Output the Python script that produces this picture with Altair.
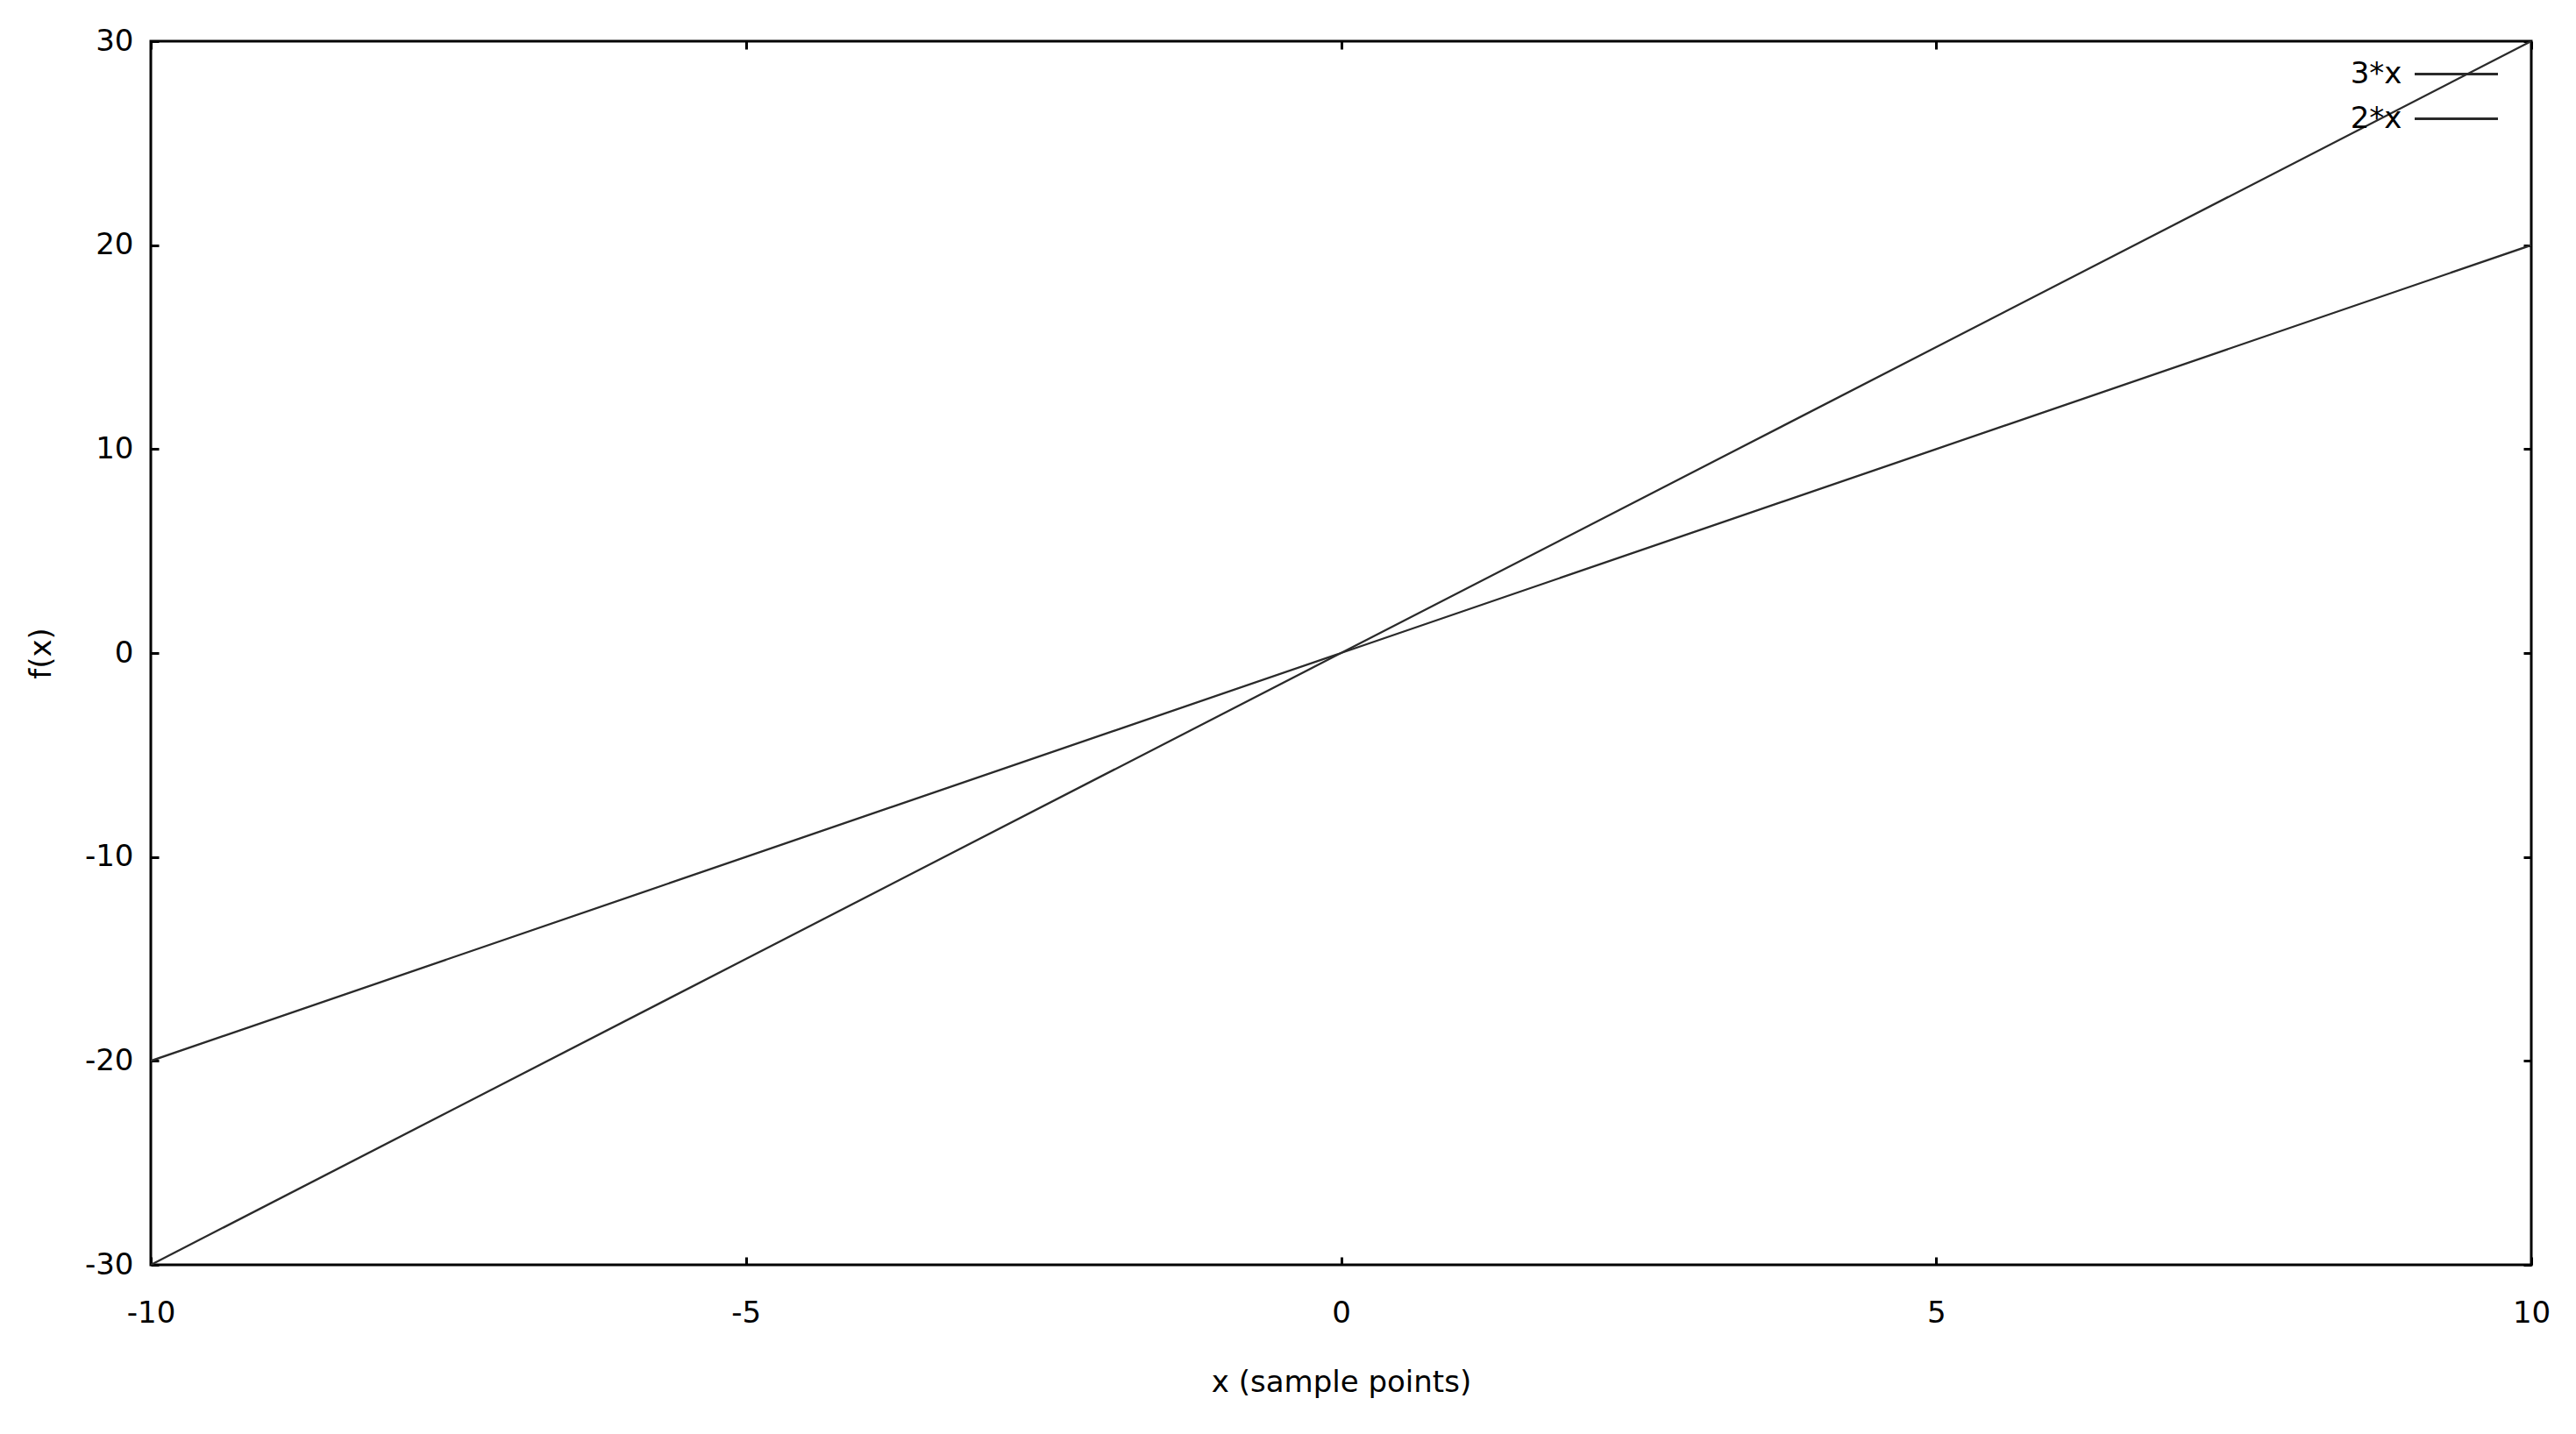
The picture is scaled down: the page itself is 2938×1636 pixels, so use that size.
import altair as alt
import pandas as pd

# ---- data ----
x_vals = [-10, -5, 0, 5, 10]
y_3x = [-30, -15, 0, 15, 30]
y_2x = [-20, -10, 0, 10, 20]
series = ["3*x", "2*x"]
x_ticks = [-10, -5, 0, 5, 10]
y_ticks = [-30, -20, -10, 0, 10, 20, 30]

rows = []
for name, ys in zip(series, [y_3x, y_2x]):
    for xv, yv in zip(x_vals, ys):
        rows.append({"x": xv, "y": yv, "series": name})
df = pd.DataFrame(rows)

W, H = 2715, 1396
FONT = "DejaVu Sans"
FS = 34
LBL = "'' + datum.value"

xscale = alt.Scale(domain=[-10, 10], nice=False, zero=False)
yscale = alt.Scale(domain=[-30, 30], nice=False, zero=False)

color = alt.Color(
    "series:N",
    scale=alt.Scale(domain=series, range=["#2a2a2a", "#2a2a2a"]),
    legend=alt.Legend(
        orient="none", legendX=2596, legendY=4, title=None,
        symbolType="M-1.484,0H1.484", symbolSize=4096, symbolStrokeWidth=3,
        labelFont=FONT, labelFontSize=FS, labelColor="black",
        labelAlign="right", labelOffset={"expr": "-95.5"}, padding=0,
        rowPadding=0,
    ),
)

base = alt.Chart(df)

main = base.mark_line(strokeWidth=2.3, clip=True).encode(
    x=alt.X("x:Q", scale=xscale, axis=alt.Axis(
        orient="bottom", values=x_ticks, title="x (sample points)", ticks=False,
        domain=False, grid=False, labelPadding=38, labelFlush=False, labelOverlap=False,
        labelExpr=LBL,
        labelFont=FONT, labelFontSize=FS, labelColor="black",
        titleFont=FONT, titleFontSize=FS, titleFontWeight="normal", titleColor="black",
        titlePadding=45)),
    y=alt.Y("y:Q", scale=yscale, axis=alt.Axis(
        orient="left", values=y_ticks, title="f(x)", ticks=False,
        domain=False, grid=False, labelPadding=20, labelFlush=False, labelOverlap=False,
        labelExpr=LBL,
        labelFont=FONT, labelFontSize=FS, labelColor="black",
        titleFont=FONT, titleFontSize=FS, titleFontWeight="normal", titleColor="black",
        titlePadding=32)),
    color=color,
)

tick_style = dict(labels=False, domain=False, grid=False, ticks=True, tickSize=9,
                  tickWidth=3, tickColor="black", title=None)

ticks_a = base.mark_line(opacity=0).encode(
    x=alt.X("x:Q", scale=xscale, axis=alt.Axis(orient="top", offset=-H, values=x_ticks, **tick_style)),
    y=alt.Y("y:Q", scale=yscale, axis=alt.Axis(orient="right", offset=-W, values=y_ticks, **tick_style)),
    detail="series:N",
)
ticks_b = base.mark_line(opacity=0).encode(
    x=alt.X("x:Q", scale=xscale, axis=alt.Axis(orient="bottom", offset=-H, values=x_ticks, **tick_style)),
    y=alt.Y("y:Q", scale=yscale, axis=alt.Axis(orient="left", offset=-W, values=y_ticks, **tick_style)),
    detail="series:N",
)

chart = (
    alt.layer(main, ticks_a, ticks_b)
    .resolve_axis(x="independent", y="independent")
    .properties(
        width=W, height=H,
        autosize=alt.AutoSizeParams(type="none"),
        padding={"left": 164, "top": 39, "right": 40, "bottom": 180},
        background="white",
    )
    .configure_view(stroke="black", strokeWidth=3)
)

chart.save("out.html", embed_options={"renderer": "svg", "actions": False})
